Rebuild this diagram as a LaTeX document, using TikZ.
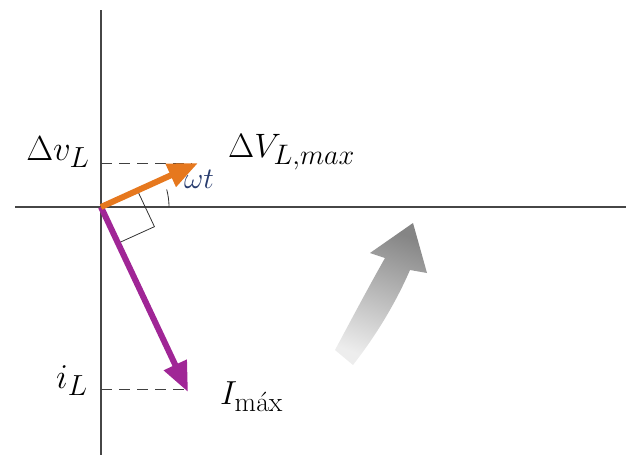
\documentclass[tikz,border=0pt]{standalone}
\usetikzlibrary{arrows.meta,calc}
\definecolor{vorange}{RGB}{230,120,30}
\definecolor{vpurple}{RGB}{160,38,150}
\definecolor{axisgray}{RGB}{70,70,70}
\definecolor{omegablue}{RGB}{40,60,110}
\newcommand{\bigtxt}[2]{\scalebox{#1}{\Huge #2}}
\begin{document}
\begin{tikzpicture}[x=1pt,y=-1pt,
  axisline/.style={draw=axisgray,line width=1.3pt},
  guide/.style={draw=black!75,line width=1pt,dash pattern=on 11pt off 7pt},
  phasor/.style={line width=6pt,-{Triangle[length=30pt,width=24pt]}},
  lbl/.style={inner sep=0pt}]
\useasboundingbox (0,0) rectangle (627,458);
\coordinate (O) at (101,207);
\coordinate (Vtop) at (101,10);
\coordinate (Vbot) at (101,455);
\coordinate (Hl) at (15,207);
\coordinate (Hr) at (626,207);
\coordinate (Vtip) at (198,163);
\coordinate (Itip) at (188,392);
\coordinate (VdashL) at (101,163);
\coordinate (VdashR) at (192,163);
\coordinate (IdashL) at (101,389);
\coordinate (IdashR) at (186,389);
% axes
\draw[axisline] (Vtop) -- (Vbot);
\draw[axisline] (Hl) -- (Hr);
% dashed guides
\draw[guide] (VdashL) -- (VdashR);
\draw[guide] (IdashL) -- (IdashR);
% right-angle marker
\coordinate (Ra) at ($(O)!40pt!(Vtip)$);
\coordinate (Rb) at ($(O)!40pt!(Itip)$);
\coordinate (Rc) at ($(Ra)+(Rb)-(O)$);
\draw[black!80,line width=0.8pt] (Ra) -- (Rc) -- (Rb);
% angle arc
\draw[black!80,line width=0.8pt] ($(O)+(68,0)$) arc[start angle=0,end angle=-15,radius=68];
% phasors
\draw[phasor,vpurple] (O) -- (Itip);
\draw[phasor,vorange] (O) -- (Vtip);
% rotation arrow
\shade[top color=black!48,bottom color=black!7,shading angle=-20]
  (335,350) .. controls (350,322) and (368,288) .. (385,258)
  -- (370,253) -- (413,223) -- (427,273) -- (410,270)
  .. controls (397,300) and (378,333) .. (353,365) -- cycle;
% labels
\node[lbl,anchor=base] (dv) at (58,160) {\bigtxt{1.4}{$\Delta v_L$}};
\node[lbl,anchor=base] (iL) at (72,388) {\bigtxt{1.4}{$i_L$}};
\node[lbl,anchor=base west] (Imax) at (220,404) {\bigtxt{1.34}{$I_{\mathrm{m\acute{a}x}}$}};
\node[lbl,anchor=base west] (Vmax) at (228,157) {\bigtxt{1.36}{$\Delta V_{L,max}$}};
\node[lbl,anchor=base west,text=omegablue] (wt) at (184,188) {\bigtxt{1.2}{$\omega t$}};
\end{tikzpicture}
\end{document}
